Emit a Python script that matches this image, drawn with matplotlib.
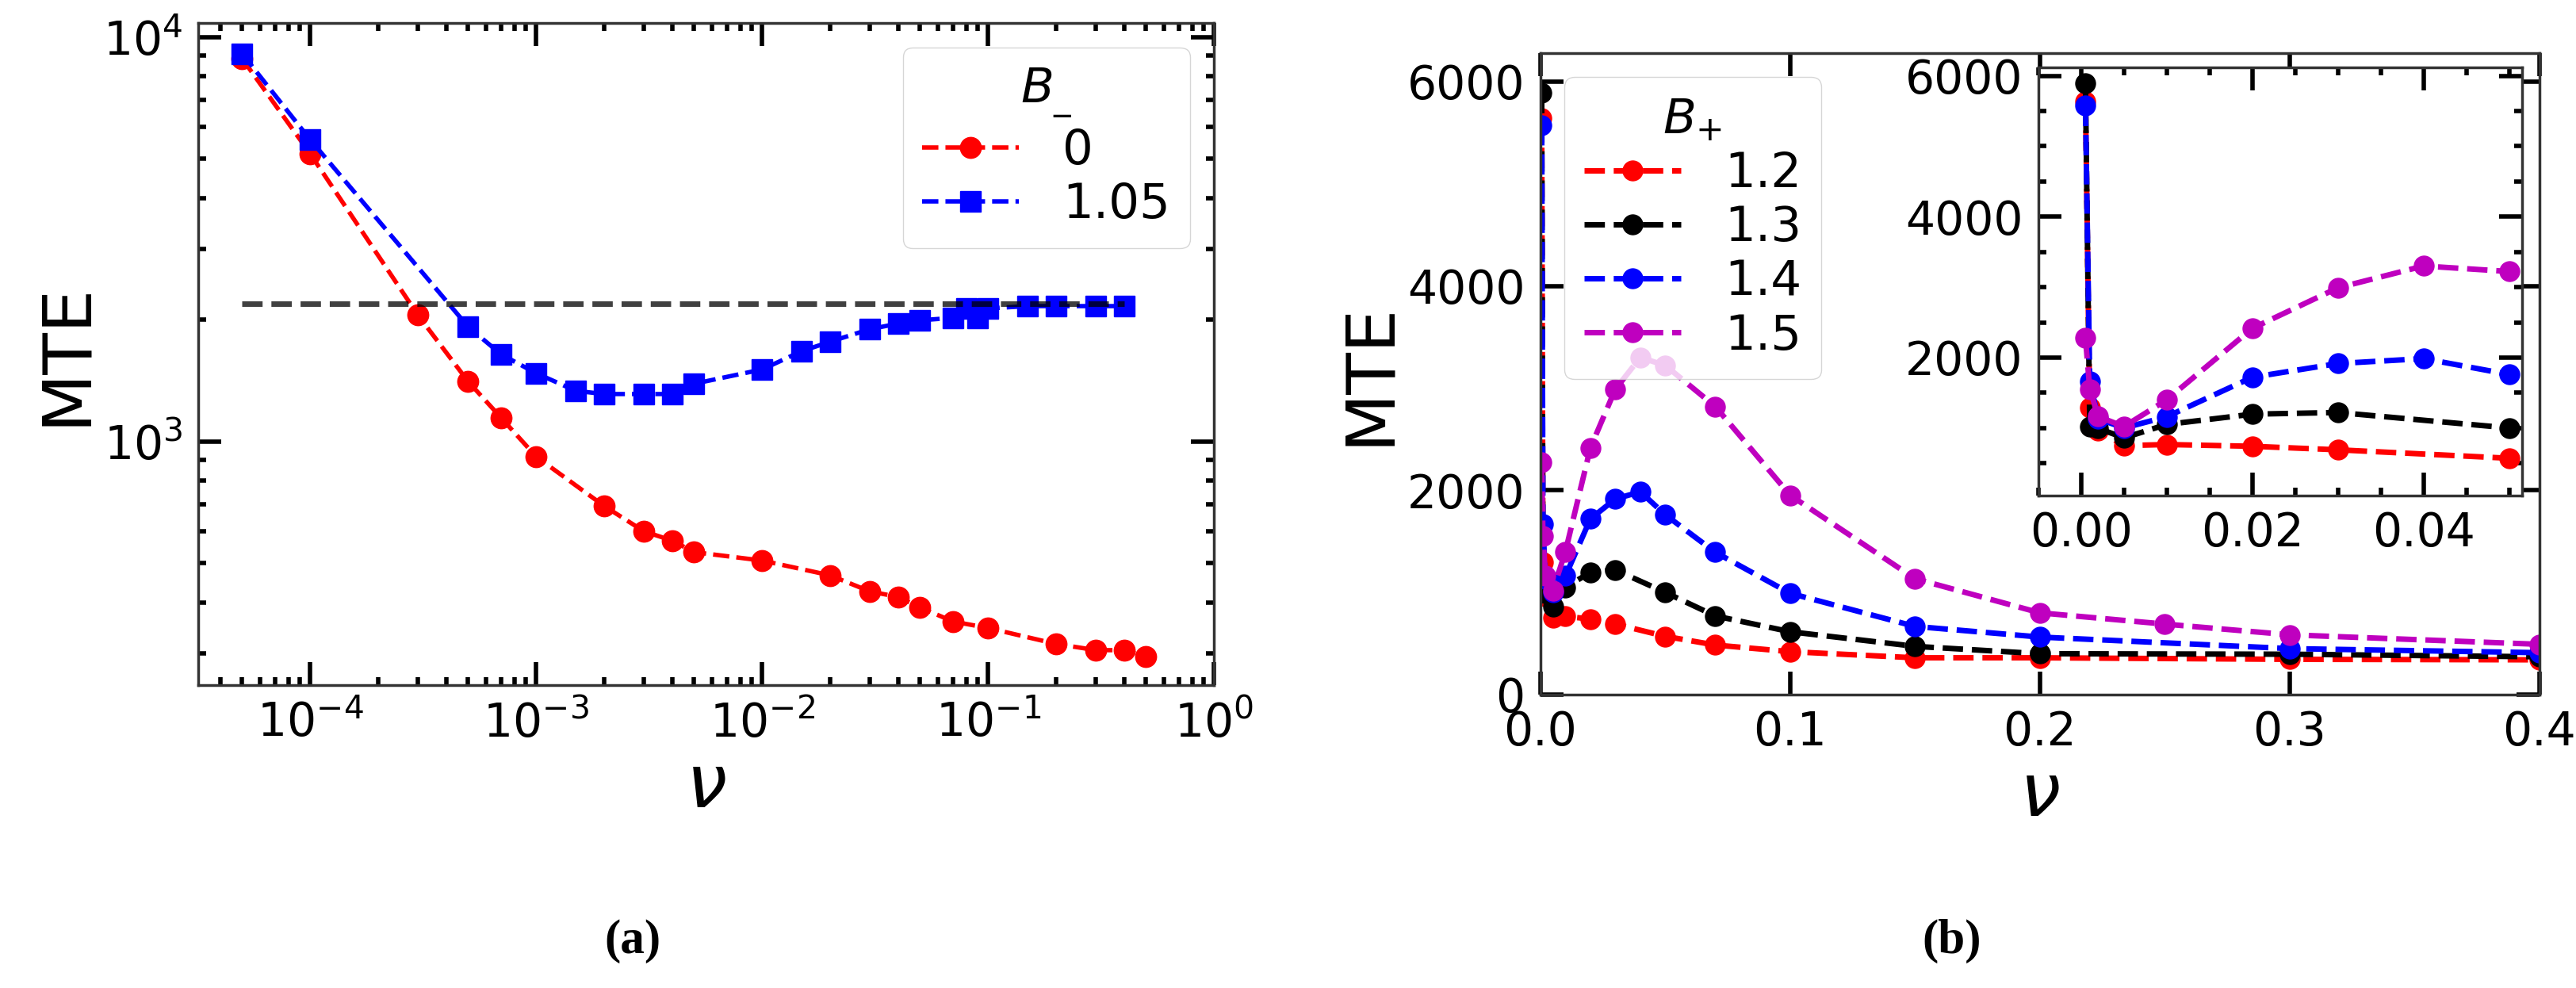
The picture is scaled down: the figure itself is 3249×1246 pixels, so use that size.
import matplotlib
matplotlib.use("Agg")
import matplotlib.pyplot as plt
from matplotlib.ticker import AutoMinorLocator, MultipleLocator

# panel (a): MTE vs nu, log-log
nu_a0 = [5e-5, 1e-4, 3e-4, 5e-4, 7e-4, 1e-3, 2e-3, 3e-3, 4e-3, 5e-3, 1e-2,
         2e-2, 3e-2, 4e-2, 5e-2, 7e-2, 0.1, 0.2, 0.3, 0.4, 0.5]
mte_a0 = [8850, 5150, 2054, 1408, 1145, 918, 693, 600, 569, 533, 508,
          467, 426, 413, 389, 359, 346, 316, 305, 305, 294]
nu_a1 = [5e-5, 1e-4, 5e-4, 7e-4, 1e-3, 1.5e-3, 2e-3, 3e-3, 4e-3, 5e-3, 1e-2,
         1.5e-2, 2e-2, 3e-2, 4e-2, 5e-2, 7e-2, 8e-2, 9e-2, 0.1, 0.15, 0.2, 0.3, 0.4]
mte_a1 = [9100, 5580, 1923, 1643, 1476, 1335, 1311, 1311, 1311, 1390, 1508,
          1674, 1766, 1897, 1958, 1995, 2023, 2134, 2023, 2134, 2163, 2163, 2163, 2163]
labels_a = ['0', '1.05']
mte_ref = 2190
ref_range = [5e-5, 0.4]

# panel (b): MTE vs nu, linear
nu_b12 = [5e-4, 1e-3, 2e-3, 5e-3, 0.01, 0.02, 0.03, 0.05, 0.07, 0.1, 0.15, 0.2, 0.3, 0.4]
mte_b12 = [5640, 1294, 961, 749, 765, 740, 690, 570, 485, 420, 360, 360, 345, 340]
nu_b13 = [5e-4, 1e-3, 2e-3, 5e-3, 0.01, 0.02, 0.03, 0.05, 0.07, 0.1, 0.15, 0.2, 0.3, 0.4]
mte_b13 = [5890, 1023, 994, 860, 1050, 1196, 1220, 1000, 770, 615, 472, 400, 395, 370]
nu_b14 = [5e-4, 1e-3, 2e-3, 5e-3, 0.01, 0.02, 0.03, 0.04, 0.05, 0.07, 0.1, 0.15, 0.2, 0.3, 0.4]
mte_b14 = [5575, 1665, 1130, 1000, 1160, 1720, 1915, 1985, 1760, 1393, 991, 667, 563, 450, 410]
nu_b15 = [5e-4, 1e-3, 2e-3, 5e-3, 0.01, 0.02, 0.03, 0.04, 0.05, 0.07, 0.1, 0.15, 0.2, 0.25, 0.3, 0.4]
mte_b15 = [2275, 1553, 1162, 1020, 1400, 2415, 2990, 3300, 3222, 2820, 1951, 1134, 800, 690, 585, 492]
labels_b = ['1.2', '1.3', '1.4', '1.5']
colors_b = ['r', 'k', 'b', 'm']

FS = 42
LFS = 44


def style(ax, minor=True):
    ax.tick_params(which='both', direction='in', top=True, right=True,
                   labelsize=FS, pad=14)
    ax.tick_params(which='major', length=21, width=4)
    if minor:
        ax.tick_params(which='minor', length=7, width=4)
    for s in ax.spines.values():
        s.set_linewidth(2.5)
        s.set_color('0.2')


fig = plt.figure(figsize=(32.49, 12.46), dpi=100)

# ---- (a)
ax1 = fig.add_axes([0.0770, 0.3066, 0.3943, 0.6701])
ax1.plot(nu_a0, mte_a0, 'o--', color='r', lw=4, ms=19, label=labels_a[0])
ax1.plot(nu_a1, mte_a1, 's--', color='b', lw=4, ms=19, label=labels_a[1])
ax1.plot(ref_range, [mte_ref, mte_ref], '--', color='k', alpha=0.75, lw=5)
ax1.set_xscale('log')
ax1.set_yscale('log')
ax1.set_xlim(3.2e-5, 1)
ax1.set_ylim(250, 10840)
style(ax1)
ax1.set_xlabel(r'$\nu$', fontsize=66)
ax1.set_ylabel('MTE', fontsize=62)
# subscript minus clips the glyph in this build, underscore looks the same
ax1.legend(title=r'$B_{\_}$', fontsize=LFS, title_fontsize=LFS, loc='upper right',
           handletextpad=0.9, labelspacing=0.15)

# ---- (b)
ax2 = fig.add_axes([0.5980, 0.2970, 0.3878, 0.6493])
series_b = [(nu_b12, mte_b12), (nu_b13, mte_b13), (nu_b14, mte_b14), (nu_b15, mte_b15)]
for (x, y), c, lab in zip(series_b, colors_b, labels_b):
    ax2.plot(x, y, 'o--', color=c, lw=5, ms=18, label=lab)
ax2.set_xlim(0, 0.4)
ax2.set_ylim(0, 6280)
ax2.xaxis.set_major_locator(MultipleLocator(0.1))
ax2.yaxis.set_major_locator(MultipleLocator(2000))
style(ax2, minor=False)
ax2.set_xlabel(r'$\nu$', fontsize=66)
ax2.set_ylabel('MTE', fontsize=62)
ax2.legend(title=r'$B_{+}$', fontsize=LFS, title_fontsize=LFS, loc='upper left',
           handletextpad=0.9, labelspacing=0.15)

# inset
axi = fig.add_axes([0.7913, 0.4984, 0.1877, 0.4334])
for (x, y), c in zip(series_b, colors_b):
    sel = [i for i, v in enumerate(x) if v <= 0.05]
    axi.plot([x[i] for i in sel], [y[i] for i in sel], 'o--', color=c, lw=5, ms=18)
axi.set_xlim(-0.005, 0.0515)
axi.set_ylim(40, 6120)
axi.xaxis.set_major_locator(MultipleLocator(0.02))
axi.yaxis.set_major_locator(MultipleLocator(2000))
axi.xaxis.set_minor_locator(AutoMinorLocator(4))
axi.yaxis.set_minor_locator(AutoMinorLocator(4))
style(axi)

fig.text(0.2456, 0.047, '(a)', fontsize=44, family='Liberation Serif',
         weight='bold', ha='center', va='center')
fig.text(0.7578, 0.047, '(b)', fontsize=44, family='Liberation Serif',
         weight='bold', ha='center', va='center')

fig.savefig('out.png', dpi=100)
